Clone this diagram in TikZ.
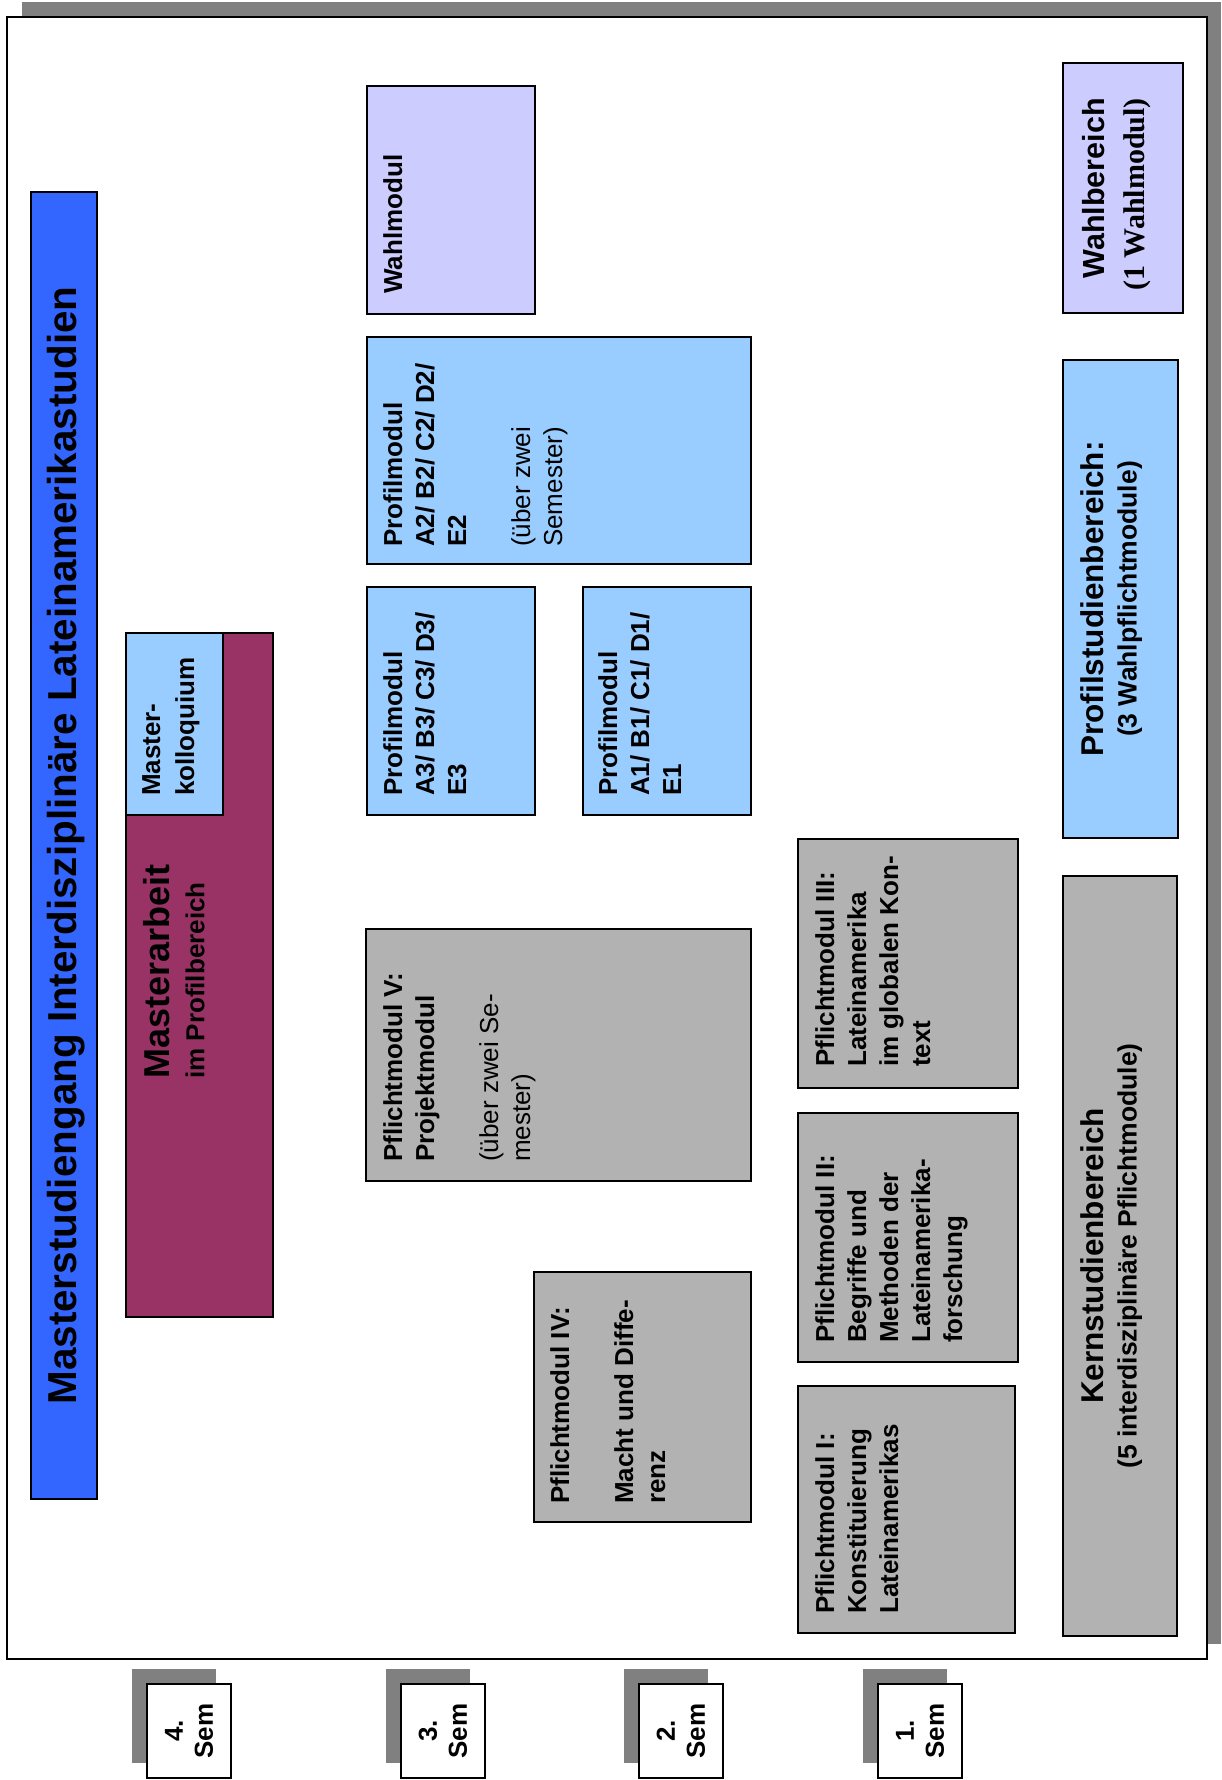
\documentclass[tikz,border=0pt]{standalone}
\usepackage{fontspec}
\setmainfont{Liberation Sans}
\newfontfamily\timesfont{Liberation Serif}
\usetikzlibrary{calc}
\definecolor{shadowgray}{HTML}{808080}
\definecolor{titleblue}{HTML}{3366FF}
\definecolor{maroon}{HTML}{993366}
\definecolor{lightblue}{HTML}{99CCFF}
\definecolor{lavender}{HTML}{CCCCFF}
\definecolor{modgray}{HTML}{B2B2B2}
\begin{document}
\begin{tikzpicture}[x=1pt,y=-1pt,
  modbox/.style={draw=black, line width=2pt, anchor=north west, inner sep=0pt, outer sep=0pt},
  flatbox/.style={anchor=north west, inner sep=0pt, outer sep=0pt},
  modtext/.style={rotate=90, anchor=north west, align=left, inner sep=0pt, font=\bfseries\fontsize{26}{32}\selectfont},
  headtext/.style={rotate=90, anchor=north, align=center, inner sep=0pt},
  sembox/.style={draw=black, line width=1.6pt, fill=white, rotate=90, minimum width=94pt, minimum height=84pt, inner sep=0pt, align=center, font=\bfseries\fontsize{26}{30}\selectfont},
  semshadow/.style={flatbox, fill=shadowgray, minimum width=84pt, minimum height=94pt}
]
\useasboundingbox (0,0) rectangle (1221,1780);

% frame and its shadow
\node[flatbox, fill=shadowgray, minimum width=1199pt, minimum height=1642pt] (frameshadow) at (22,2) {};
\node[modbox, fill=white, minimum width=1200pt, minimum height=1642pt] (frame) at (7,17) {};

% title
\node[modbox, fill=titleblue, minimum width=66pt, minimum height=1307pt] (title) at (31,192) {};
\node[rotate=90, inner sep=0pt, font=\bfseries\fontsize{40.4}{48}\selectfont] (titletext) at ($(title.center)+(2,0)$) {Masterstudiengang Interdisziplinäre Lateinamerikastudien};

% Masterarbeit and Masterkolloquium
\node[modbox, fill=maroon, minimum width=147pt, minimum height=684pt] (marb) at (126,633) {};
\node[modbox, fill=lightblue, minimum width=97pt, minimum height=182pt] (kolloq) at (126,633) {};
\node[modtext, font=\bfseries\fontsize{26}{34}\selectfont] (kolloqt) at ($(kolloq.south west)+(16,-19)$) {Master-\\kolloquium};
\node[modtext, font=\bfseries\fontsize{36}{35}\selectfont] (marbt) at ($(marb.south west)+(17,-238)$) {Masterarbeit\\{\fontsize{26}{35}\selectfont im Profilbereich}};

% Profil / Wahl modules
\node[modbox, fill=lavender, minimum width=168pt, minimum height=228pt] (wahlmod) at (367,86) {};
\node[modtext] (wahlmodt) at ($(wahlmod.south west)+(16,-20)$) {Wahlmodul};

\node[modbox, fill=lightblue, minimum width=384pt, minimum height=227pt] (profA2) at (367,337) {};
\node[modtext] (profA2t) at ($(profA2.south west)+(16,-17)$) {Profilmodul\\A2/ B2/ C2/ D2/\\E2\\[32pt]\mdseries(über zwei\\\mdseries Semester)};

\node[modbox, fill=lightblue, minimum width=168pt, minimum height=228pt] (profA3) at (367,587) {};
\node[modtext] (profA3t) at ($(profA3.south west)+(16,-19)$) {Profilmodul\\A3/ B3/ C3/ D3/\\E3};

\node[modbox, fill=lightblue, minimum width=168pt, minimum height=228pt] (profA1) at (583,587) {};
\node[modtext] (profA1t) at ($(profA1.south west)+(15,-19)$) {Profilmodul\\A1/ B1/ C1/ D1/\\E1};

% Pflichtmodule
\node[modbox, fill=modgray, minimum width=385pt, minimum height=252pt] (pmV) at (366,929) {};
\node[modtext] (pmVt) at ($(pmV.south west)+(17,-19)$) {Pflichtmodul V:\\Projektmodul\\[32pt]\mdseries(über zwei Se-\\\mdseries mester)};

\node[modbox, fill=modgray, minimum width=217pt, minimum height=250pt] (pmIV) at (534,1272) {};
\node[modtext] (pmIVt) at ($(pmIV.south west)+(16,-18)$) {Pflichtmodul IV:\\[32pt]Macht und Diffe-\\renz};

\node[modbox, fill=modgray, minimum width=220pt, minimum height=249pt] (pmIII) at (798,839) {};
\node[modtext] (pmIIIt) at ($(pmIII.south west)+(17,-21)$) {Pflichtmodul III:\\Lateinamerika\\im globalen Kon-\\text};

\node[modbox, fill=modgray, minimum width=220pt, minimum height=249pt] (pmII) at (798,1113) {};
\node[modtext] (pmIIt) at ($(pmII.south west)+(17,-19)$) {Pflichtmodul II:\\Begriffe und\\Methoden der\\Lateinamerika-\\forschung};

\node[modbox, fill=modgray, minimum width=217pt, minimum height=247pt] (pmI) at (798,1386) {};
\node[modtext] (pmIt) at ($(pmI.south west)+(17,-19)$) {Pflichtmodul I:\\Konstituierung\\Lateinamerikas};

% Bereiche
\node[modbox, fill=modgray, minimum width=114pt, minimum height=760pt] (kern) at (1063,876) {};
\node[headtext, font=\bfseries\fontsize{31.5}{33.5}\selectfont] (kernt) at ($(kern.west)+(17,0)$) {Kernstudienbereich\\{\fontsize{26.5}{33.5}\selectfont (5 interdisziplinäre Pflichtmodule)}};

\node[modbox, fill=lightblue, minimum width=115pt, minimum height=478pt] (profst) at (1063,360) {};
\node[headtext, font=\bfseries\fontsize{31.5}{33.5}\selectfont] (profstt) at ($(profst.west)+(17,0)$) {Profilstudienbereich:\\{\fontsize{26.5}{33.5}\selectfont (3 Wahlpflichtmodule)}};

\node[modbox, fill=lavender, minimum width=120pt, minimum height=250pt] (wahlb) at (1063,63) {};
\node[rotate=90, anchor=north east, align=right, inner sep=0pt, font=\bfseries\fontsize{30.5}{40}\selectfont] (wahlbt) at ($(wahlb.north west)+(19,35)$) {Wahlbereich\\{\timesfont\bfseries\fontsize{30}{40}\selectfont (1 Wahlmodul)}};

% semester labels
\node[semshadow] (s4s) at (132,1669) {};
\node[sembox] (s4) at (189,1731) {4.\\Sem};
\node[semshadow] (s3s) at (386,1669) {};
\node[sembox] (s3) at (443,1731) {3.\\Sem};
\node[semshadow] (s2s) at (624,1669) {};
\node[sembox] (s2) at (681,1731) {2.\\Sem};
\node[semshadow] (s1s) at (863,1669) {};
\node[sembox] (s1) at (920,1731) {1.\\Sem};
\end{tikzpicture}
\end{document}
